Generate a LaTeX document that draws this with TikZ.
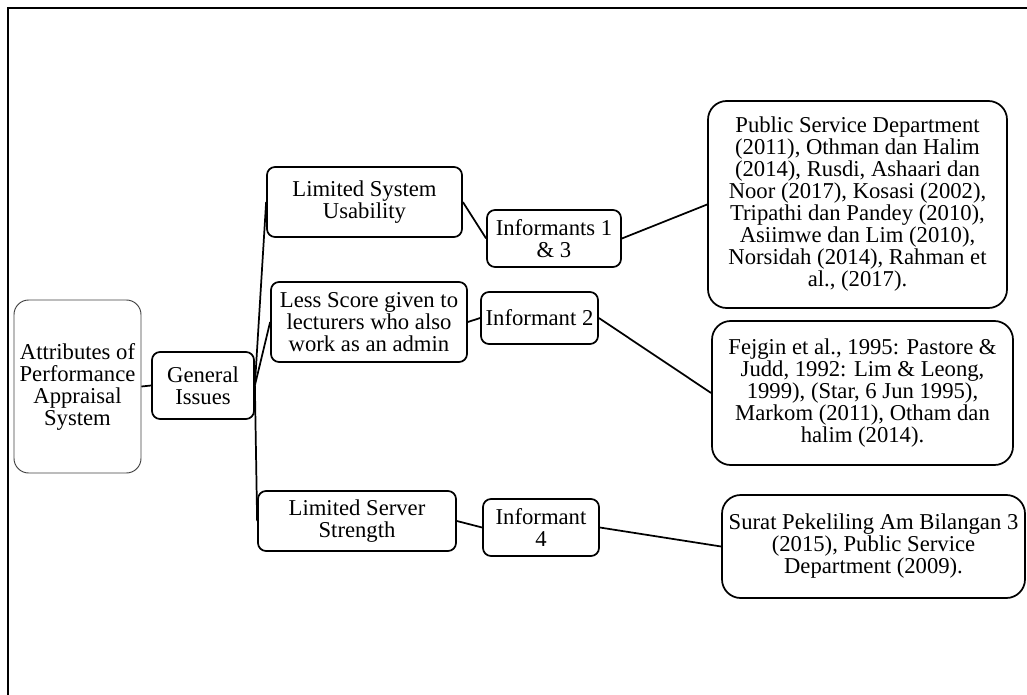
\documentclass[tikz,border=0pt]{standalone}
\usepackage{fontspec}
\setmainfont{Liberation Serif}
\usepackage{tikz}
\usetikzlibrary{positioning}

\begin{document}
\begin{tikzpicture}[
    x=0.75pt, y=-0.75pt,
    box/.style={rectangle, draw, line width=1.3pt, rounded corners=6pt, align=center, inner sep=2pt,
        font=\fontsize{17}{16.5}\selectfont},
    rootbox/.style={box, line width=0.7pt, draw=black!75, rounded corners=11pt},
    refbox/.style={box, rounded corners=14pt},
    link/.style={line width=1.3pt},
]
\useasboundingbox (0,0) rectangle (1027,695);

% Frame
\draw[line width=1.2pt] (8,695) -- (8,8) -- (1027,8);

% Nodes
\node[rootbox, minimum width=95.25pt, minimum height=129.75pt] (attr) at (77.5,386.5) {Attributes of\\Performance\\Appraisal\\System};
\node[box, minimum width=76.5pt, minimum height=50.25pt] (general) at (203,385.5) {General\\Issues};

\node[box, minimum width=146.25pt, minimum height=52.5pt] (usability) at (364.5,202) {Limited System\\Usability};
\node[box, minimum width=147pt, minimum height=60pt] (score) at (369,322) {Less Score given to\\lecturers who also\\work as an admin};
\node[box, minimum width=148.5pt, minimum height=45pt] (server) at (357,521) {Limited Server\\Strength};

\node[box, minimum width=100.5pt, minimum height=42.75pt] (inf13) at (554,238.5) {Informants 1\\\& 3};
\node[box, minimum width=87.75pt, minimum height=39pt] (inf2) at (539.5,318) {Informant 2};
\node[box, minimum width=87pt, minimum height=42.75pt] (inf4) at (541,527.5) {Informant\\4};

\node[refbox, minimum width=224.25pt, minimum height=155.25pt] (ref1) at (857.5,204.5) {Public Service Department\\(2011), Othman dan Halim\\(2014), Rusdi, Ashaari dan\\Noor (2017), Kosasi (2002),\\Tripathi dan Pandey (2010),\\Asiimwe dan Lim (2010),\\Norsidah (2014), Rahman et\\al., (2017).};
\node[refbox, minimum width=225.75pt, minimum height=108pt] (ref2) at (862.5,393) {Fejgin et al., 1995: Pastore \&\\Judd, 1992: Lim \& Leong,\\1999), (Star, 6 Jun 1995),\\Markom (2011), Otham dan\\halim (2014).};
\node[refbox, minimum width=227.25pt, minimum height=77.25pt] (ref3) at (873.5,546.5) {Surat Pekeliling Am Bilangan 3\\(2015), Public Service\\Department (2009).};

% Connectors
\draw[link] (attr.east) -- (general.west);
\draw[link] (general.east) -- (usability.west);
\draw[link] (general.east) -- (score.west);
\draw[link] (general.east) -- (server.west);
\draw[link] (usability.east) -- (inf13.west);
\draw[link] (score.east) -- (inf2.west);
\draw[link] (server.east) -- (inf4.west);
\draw[link] (inf13.east) -- (ref1.west);
\draw[link] (inf2.east) -- (ref2.west);
\draw[link] (inf4.east) -- (ref3.west);

\end{tikzpicture}
\end{document}
